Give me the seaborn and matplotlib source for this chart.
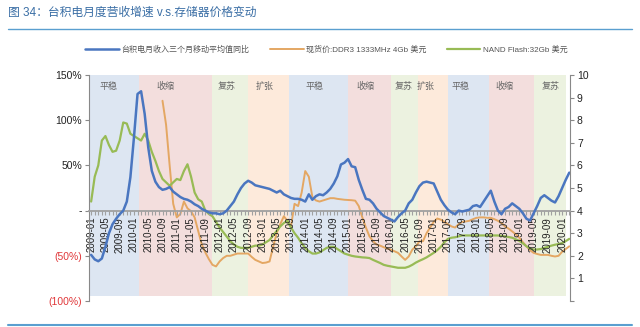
import numpy as np
import pandas as pd
import matplotlib
matplotlib.use("Agg")
import matplotlib.pyplot as plt
from matplotlib.lines import Line2D
import seaborn as sns

# ---------------- data ----------------
tick_labels = ["2009-01", "2009-05", "2009-09", "2010-01", "2010-05", "2010-09",
               "2011-01", "2011-05", "2011-09", "2012-01", "2012-05", "2012-09",
               "2013-01", "2013-05", "2013-09", "2014-01", "2014-05", "2014-09",
               "2015-01", "2015-05", "2015-09", "2016-01", "2016-05", "2016-09",
               "2017-01", "2017-05", "2017-09", "2018-01", "2018-05", "2018-09",
               "2019-01", "2019-05", "2019-09", "2020-01"]

# TSMC monthly revenue, 3-month moving average YoY (%), 2009-01 .. 2020-03
tsmc_yoy = [-49, -54, -56, -53, -40, -25, -15, -9, -4, 0,
            10, 37, 81, 129, 132, 107, 70, 44, 32, 26,
            23, 24, 26, 21, 18, 15, 13, 12, 10, 7,
            5, 2, 0, -2, -3, -3, -4, -3, 0, 5,
            10, 18, 25, 30, 33, 31, 28, 27, 26, 25,
            24, 22, 20, 22, 18, 16, 14, 13, 13, 12,
            10, 18, 12, 16, 18, 17, 20, 24, 30, 38,
            51, 53, 57, 49, 48, 34, 23, 13, 12, 8,
            2, -2, -6, -8, -10, -12, -7, -3, 0, 8,
            12, 20, 27, 31, 32, 31, 30, 21, 12, 6,
            1, -2, -4, 0, -1, 0, 1, 5, 6, 4,
            10, 16, 22, 10, 0, -4, 2, 4, 8, 5,
            2, -3, -9, -11, -3, 5, 14, 17, 14, 11,
            9, 16, 25, 34, 42]

# DDR3 1333MHz 4Gb spot price (USD)
ddr3_price = [np.nan] * 20 + [
            8.86, 7.8, 6.0, 4.3, 3.7, 3.85, 4.4, 4.1, 3.97, 3.7,
            3.1, 2.5, 2.15, 1.85, 1.6, 1.53, 1.75, 1.9, 2.0, 2.0,
            2.05, 2.1, 2.1, 2.1, 2.1, 1.95, 1.82, 1.75, 1.68, 1.7,
            1.75, 2.4, 3.0, 3.4, 3.75, 3.55, 3.3, 4.3, 4.2, 4.8,
            5.75, 5.5, 4.6, 4.45, 4.4, 4.45, 4.5, 4.55, 4.55, 4.52,
            4.5, 4.48, 4.47, 4.46, 4.44, 4.2, 3.7, 3.25, 2.86, 2.65,
            2.5, 2.45, 2.38, 2.32, 2.27, 2.2, 2.13, 1.97, 1.82, 1.97,
            2.27, 2.42, 2.64, 2.65, 3.0, 3.25, 3.5, 3.65, 3.6, 3.5,
            3.4, 3.3, 3.25, 3.4, 3.5, 3.52, 3.55, 3.62, 3.68, 3.7,
            3.7, 3.68, 3.68, 3.62, 3.55, 3.45, 3.3, 3.2, 3.08, 2.95,
            2.8, 2.6, 2.42, 2.25, 2.13, 2.08, 2.04, 2.04, 2.04, 2.0,
            1.97, 2.0, 2.18, 2.3, 2.42]

# NAND Flash 32Gb price (USD)
nand_price = [4.4, 5.5, 6.0, 7.1, 7.3, 6.9, 6.6, 6.65, 7.1, 7.9,
              7.85, 7.4, 7.3, 7.2, 7.1, 7.4, 7.1, 6.6, 6.2, 5.75,
              5.4, 5.25, 5.1, 5.25, 5.4, 5.35, 5.75, 6.05, 5.5, 4.8,
              4.5, 4.4, 4.0, 3.85, 3.75, 3.5, 3.25, 3.05, 2.85, 2.65,
              2.5, 2.4, 2.35, 2.35, 2.35, 2.4, 2.45, 2.45, 2.5, 2.6,
              2.7, 2.9, 3.1, 3.3, 3.45, 3.55, 3.25, 3.0, 2.8, 2.55,
              2.35, 2.2, 2.1, 2.1, 2.15, 2.25, 2.35, 2.4, 2.4, 2.3,
              2.2, 2.1, 2.05, 2.0, 1.97, 1.95, 1.93, 1.92, 1.9, 1.82,
              1.75, 1.68, 1.6, 1.56, 1.53, 1.5, 1.47, 1.47, 1.47, 1.52,
              1.6, 1.7, 1.78, 1.85, 1.93, 2.03, 2.13, 2.25, 2.4, 2.6,
              2.75, 2.8, 2.82, 2.86, 2.9, 2.9, 2.9, 2.9, 2.9, 2.9,
              2.9, 2.9, 2.9, 2.9, 2.9, 2.88, 2.86, 2.83, 2.8, 2.73,
              2.66, 2.55, 2.42, 2.33, 2.27, 2.28, 2.3, 2.35, 2.4, 2.45,
              2.49, 2.52, 2.56, 2.65, 2.75]

phase_names = ["平稳", "收缩", "复苏", "扩张", "平稳", "收缩", "复苏", "扩张", "平稳", "收缩", "复苏"]
phase_bounds = [-0.6, 13.4, 34, 44, 55.5, 72, 84, 91.6, 100, 111.5, 124, 133]
phase_label_x = [5.0, 20.7, 38.1, 48.5, 62.5, 77, 87.7, 93.8, 103.4, 115.7, 128.9]

series_names = ["台积电月收入三个月移动平均值同比",
                "现货价:DDR3 1333MHz 4Gb 美元",
                "NAND Flash:32Gb 美元"]

# ---------------- style ----------------
sns.set_style("white")
plt.rcParams["font.family"] = ["Liberation Sans", "Noto Sans CJK SC", "DejaVu Sans"]

phase_colors = {"平稳": "#dde6f2", "收缩": "#f3dedd", "复苏": "#ecf2e0", "扩张": "#fdeadb"}
c_blue, c_orange, c_green = "#4a76c0", "#e4a763", "#98bb55"

months = np.arange(len(tsmc_yoy))
df = pd.DataFrame({"m": months, "tsmc": tsmc_yoy, "ddr3": ddr3_price, "nand": nand_price})

fig = plt.figure(figsize=(6.4, 3.27), dpi=100)
ax = fig.add_axes([89 / 640, 26 / 327, (570 - 89) / 640, (301 - 75) / 327])
ax2 = ax.twinx()

# phase shading (on the back axes)
for i, name in enumerate(phase_names):
    ax2.axvspan(phase_bounds[i], phase_bounds[i + 1], ymin=0.02, ymax=1.015,
                color=phase_colors[name], lw=0, zorder=0)
    ax.text(phase_label_x[i], 137, name, ha="center", va="center",
            fontsize=6.5, color="#666666", zorder=1)

sns.lineplot(data=df, x="m", y="ddr3", ax=ax2, color=c_orange, linewidth=1.4,
             legend=False, zorder=3)
sns.lineplot(data=df, x="m", y="nand", ax=ax2, color=c_green, linewidth=1.6,
             legend=False, zorder=3)
sns.lineplot(data=df, x="m", y="tsmc", ax=ax, color=c_blue, linewidth=1.8,
             legend=False, zorder=5)

ax.set_xlim(-0.6, 134.2)
ax.set_ylim(-100, 150)
ax2.set_ylim(0, 10)
ax.set_xlabel("")
ax.set_ylabel("")
ax2.set_ylabel("")

# left axis
ax.set_yticks([-100, -50, 0, 50, 100, 150])
ax.set_yticklabels(["(100%)", "(50%)", "-", "50%", "100%", "150%"], fontsize=7.5)
for lbl, col in zip(ax.get_yticklabels(), ["#e0383a", "#e0383a", "#222222", "#222222", "#222222", "#222222"]):
    lbl.set_color(col)
ax.tick_params(axis="y", direction="out", length=3, width=0.8, color="#888888", pad=2, left=True)

# bottom spine at zero with monthly ticks
ax.spines["bottom"].set_position(("data", 0))
ax.spines["bottom"].set_color("#a0a0a0")
ax.spines["bottom"].set_linewidth(1.3)
ax.set_xticks(np.arange(0, len(tsmc_yoy), 4)[:len(tick_labels)])
ax.set_xticklabels(tick_labels, rotation=90, fontsize=7, color="#222222")
ax.set_xticks(months, minor=True)
ax.tick_params(axis="x", which="both", direction="out", length=3, width=0.8,
               color="#a0a0a0", pad=1.5, bottom=True)
ax.spines["left"].set_color("#888888")
ax.spines["left"].set_linewidth(0.8)
for s in ["top", "right"]:
    ax.spines[s].set_visible(False)

# right axis
for s in ["top", "left", "bottom"]:
    ax2.spines[s].set_visible(False)
ax2.spines["right"].set_color("#888888")
ax2.spines["right"].set_linewidth(0.8)
ax2.set_yticks(range(0, 11))
ax2.set_yticklabels([""] + [str(v) for v in range(1, 11)], fontsize=7.5, color="#222222")
ax2.tick_params(axis="y", direction="out", length=3, width=0.8, color="#888888", pad=2, right=True)

ax.set_zorder(ax2.get_zorder() + 1)
ax.patch.set_visible(False)

# legend
handles = [Line2D([], [], color=c_blue, lw=1.8),
           Line2D([], [], color=c_orange, lw=1.4),
           Line2D([], [], color=c_green, lw=1.6)]
leg = fig.legend(handles, series_names, loc="center", bbox_to_anchor=(0.51, 1 - 50 / 327),
                 ncol=3, frameon=False, fontsize=5.8, handlelength=4.2,
                 handletextpad=0.3, columnspacing=2.5)
for t in leg.get_texts():
    t.set_color("#555555")

# title and rules
fig.text(8 / 640, 1 - 13 / 327, "图 34：台积电月度营收增速 v.s.存储器价格变动",
         fontsize=8.5, color="#3a6ea5", ha="left", va="center")
fig.add_artist(Line2D([8 / 640, 632 / 640], [1 - 29 / 327] * 2, color="#5a9fd0", lw=1.0))
fig.add_artist(Line2D([8 / 640, 632 / 640], [1 - 325 / 327] * 2, color="#5a9fd0", lw=1.5))

fig.savefig("out.png", dpi=100)
